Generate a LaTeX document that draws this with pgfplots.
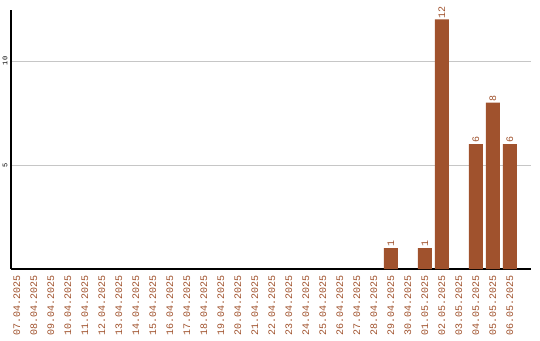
\documentclass[border=0pt]{standalone}
\usepackage{pgfplots}
\pgfplotsset{compat=1.18}
\usepackage{fontspec}
\setmainfont{Liberation Mono}
\definecolor{barbrown}{HTML}{A0522D}
\begin{document}
\begin{tikzpicture}
\useasboundingbox (-11pt,-71pt) rectangle (529pt,269pt);
\begin{axis}[
  at={(0,0)}, anchor=south west,
  scale only axis,
  width=520pt, height=259pt,
  xmin=-0.35, xmax=30.25,
  ymin=0, ymax=12.45,
  axis x line*=bottom, axis y line*=left,
  axis line style={black, line width=1.2pt, -},
  ytick={5,10},
  yticklabel style={rotate=90, font=\fontsize{7}{8}\selectfont, anchor=south, black},
  ymajorgrids, grid style={gray!45, line width=0.7pt},
  major tick length=0pt,
  xtick={0,...,29},
  xticklabels={07.04.2025,08.04.2025,09.04.2025,10.04.2025,11.04.2025,12.04.2025,13.04.2025,14.04.2025,15.04.2025,16.04.2025,17.04.2025,18.04.2025,19.04.2025,20.04.2025,21.04.2025,22.04.2025,23.04.2025,24.04.2025,25.04.2025,26.04.2025,27.04.2025,28.04.2025,29.04.2025,30.04.2025,01.05.2025,02.05.2025,03.05.2025,04.05.2025,05.05.2025,06.05.2025},
  xticklabel style={rotate=90, anchor=east, font=\fontsize{10}{11}\selectfont, text=barbrown, inner xsep=6pt, inner ysep=1pt},
  /pgf/number format/assume math mode=true,
  ybar, bar width=14pt,
  nodes near coords,
  nodes near coords style={rotate=90, anchor=west, font=\fontsize{10}{11}\selectfont, text=barbrown, inner sep=1pt},
]
\addplot[fill=barbrown, draw=none] coordinates {
  (22,1) (24,1) (25,12) (27,6) (28,8) (29,6)
};
\end{axis}
\end{tikzpicture}
\end{document}
